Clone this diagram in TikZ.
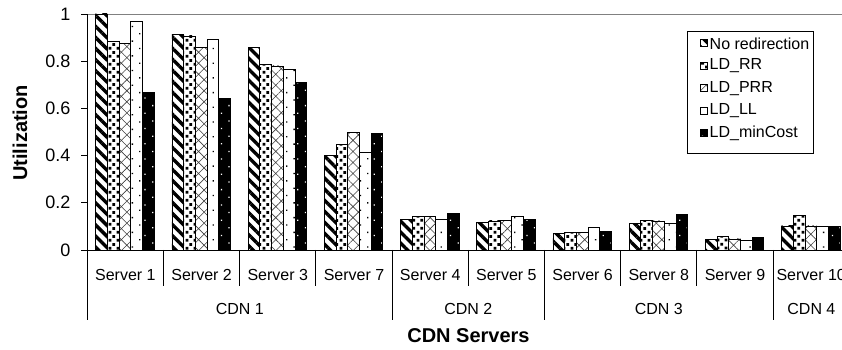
\documentclass[tikz,border=0pt]{standalone}
\usepackage{fontspec}
\setmainfont{Liberation Sans}
\usetikzlibrary{patterns.meta}

\tikzdeclarepattern{
  name=squaredots,
  type=uncolored,
  bounding box={(0pt,0pt) and (7.7pt,7.7pt)},
  tile size={(7.7pt,7.7pt)},
  code={
    \pgfpathrectangle{\pgfpoint{0.5pt}{0.5pt}}{\pgfpoint{2.8pt}{2.8pt}}
    \pgfpathrectangle{\pgfpoint{4.35pt}{4.35pt}}{\pgfpoint{2.8pt}{2.8pt}}
    \pgfusepath{fill}
  }
}

\begin{document}
\begin{tikzpicture}[
  x=1pt,y=1pt,
  axisline/.style={line width=0.9pt},
  gridline/.style={line width=0.9pt,gray},
  ticklab/.style={anchor=east,font=\fontsize{18}{20}\selectfont},
  srvlab/.style={font=\fontsize{16}{18}\selectfont},
  title/.style={font=\fontsize{20}{22}\selectfont\bfseries},
  outline/.style={postaction={draw,line width=0.8pt}},
  nored/.style={fill=white,postaction={pattern={Lines[angle=-45,distance=7.8pt,line width=3.4pt]}},outline},
  ldrr/.style={fill=white,postaction={pattern=squaredots},outline},
  ldprr/.style={fill=white,postaction={pattern={Hatch[angle=45,distance=7.8pt,line width=0.6pt]},pattern color=black!75},outline},
  ldll/.style={fill=white,postaction={pattern={Dots[angle=45,distance=10.4pt,radius=0.95pt]}},outline},
  ldmin/.style={fill=black,postaction={pattern={Dots[angle=45,distance=10.8pt,radius=0.9pt]},pattern color=white},outline},
]
  \clip (0,0) rectangle (842,350);

  % Value axis
  \draw[gridline] (87.3,336) -- (842,336);
  \foreach \v/\lab [count=\j] in {0/0,0.2/0.2,0.4/0.4,0.6/0.6,0.8/0.8,1/1} {
    \draw[axisline] (81,{100+236*\v}) -- (87.3,{100+236*\v});
    \node[ticklab] (ytick\j) at (74,{100+236*\v}) {\lab};
  }
  \node[title,rotate=90] (ytitle) at (20,217) {Utilization};

  % Bars
  \foreach \srv/\va/\vb/\vc/\vd/\ve [count=\i from 0] in {
      Server 1/1.0/0.883/0.876/0.969/0.667,
      Server 2/0.912/0.907/0.857/0.894/0.644,
      Server 3/0.857/0.788/0.780/0.767/0.709,
      Server 7/0.400/0.448/0.499/0.414/0.494,
      Server 4/0.131/0.141/0.141/0.131/0.155,
      Server 5/0.117/0.123/0.127/0.144/0.131,
      Server 6/0.069/0.075/0.075/0.094/0.079,
      Server 8/0.113/0.127/0.123/0.113/0.150,
      Server 9/0.045/0.058/0.047/0.042/0.052,
      Server 10/0.102/0.145/0.102/0.102/0.102} {
    \foreach \v/\s [count=\k from 0] in {\va/nored,\vb/ldrr,\vc/ldprr,\vd/ldll,\ve/ldmin}
      \path[\s] ({95.7+76.2*\i+11.7*\k},100) rectangle ++(11.7,{236*\v});
    \node[srvlab] (srv\i) at ({87.3+76.2*(\i+0.5)},75) {\srv};
  }

  % Category axis
  \draw[axisline] (87.3,30) -- (87.3,336);
  \draw[axisline] (87.3,100) -- (842,100);
  \foreach \i in {1,2,3,5,7,8}
    \draw[axisline] ({87.3+76.2*\i},100) -- ({87.3+76.2*\i},64);
  \foreach \i in {4,6,9}
    \draw[axisline] ({87.3+76.2*\i},100) -- ({87.3+76.2*\i},30);
  \node[srvlab] (cdn1) at (239.8,41.5) {CDN 1};
  \node[srvlab] (cdn2) at (468.3,41.5) {CDN 2};
  \node[srvlab] (cdn3) at (658.8,41.5) {CDN 3};
  \node[srvlab] (cdn4) at (811.4,41.5) {CDN 4};
  \node[title] (xtitle) at (468.5,14) {CDN Servers};

  % Legend
  \draw[line width=0.8pt,fill=white] (687.7,196.7) rectangle (813.3,318.3);
  \foreach \s/\lab [count=\j from 0] in {nored/No redirection,ldrr/LD\_RR,ldprr/LD\_PRR,ldll/LD\_LL,ldmin/LD\_minCost} {
    \path[\s] (700.5,{303.2-22.5*\j}) rectangle ++(7,7);
    \node[srvlab,anchor=west,inner sep=0pt] (leg\j) at (709.5,{306.7-22.5*\j}) {\lab};
  }
\end{tikzpicture}
\end{document}
